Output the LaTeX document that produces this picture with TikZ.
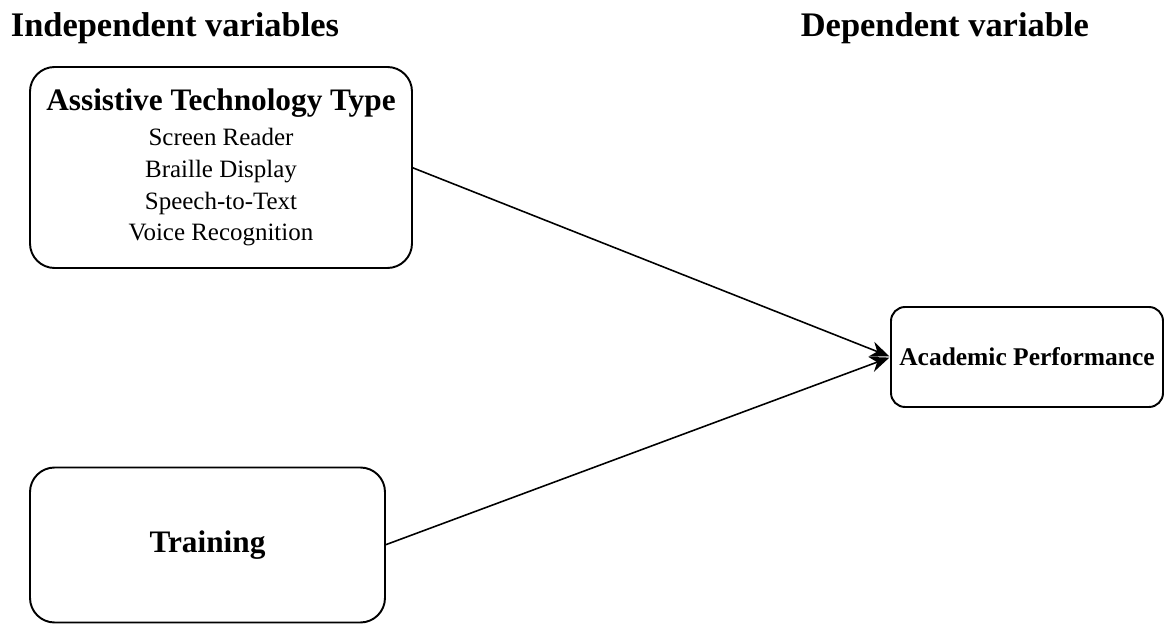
\documentclass[tikz,border=0pt]{standalone}
\usepackage{fontspec}
\setmainfont{Liberation Serif}
\usetikzlibrary{arrows.meta}

\newcommand{\headfont}{\fontsize{19.6}{23}\selectfont\bfseries}
\newcommand{\titlefont}{\fontsize{17.8}{21}\selectfont\bfseries}
\newcommand{\itemfont}{\fontsize{14.2}{18}\selectfont}

\begin{document}
\begin{tikzpicture}
\tikzset{ >={Stealth[length=11pt,width=9pt]}, outer sep=0pt,
  varbox/.style={draw, line width=1.1pt, rounded corners=14pt, align=center, inner sep=0pt},
  link/.style={->, line width=0.9pt, shorten >=1pt},
}
\useasboundingbox (0,0) rectangle (23.3,12.5);
%\draw [lightgray, dashed](0,0) grid (23,12);

\node [anchor=base west] (IV) at (0.1,11.76) {\headfont Independent variables};
\node [anchor=base west] (DV) at (15.9,11.76) {\headfont Dependent variable};

\node [varbox, font=\itemfont, minimum width=7.64cm, minimum height=4.02cm] (ATT) at (4.42,9.15)
  {{\titlefont Assistive Technology Type}\\[2pt]
   Screen Reader\\
   Braille Display\\
   Speech-to-Text\\
   Voice Recognition};

\node [varbox, minimum width=7.1cm, minimum height=3.1cm] (TR) at (4.15,1.6)
  {\titlefont Training};

\node [varbox, rounded corners=8pt, minimum width=5.44cm, minimum height=2.0cm] (AP) at (20.54,5.36)
  {\fontsize{14.5}{17}\selectfont\bfseries Academic Performance};

\draw [link] (ATT.east) -- (AP.west);
\draw [link] (TR.east)  -- (AP.west);

\end{tikzpicture}
\end{document}
